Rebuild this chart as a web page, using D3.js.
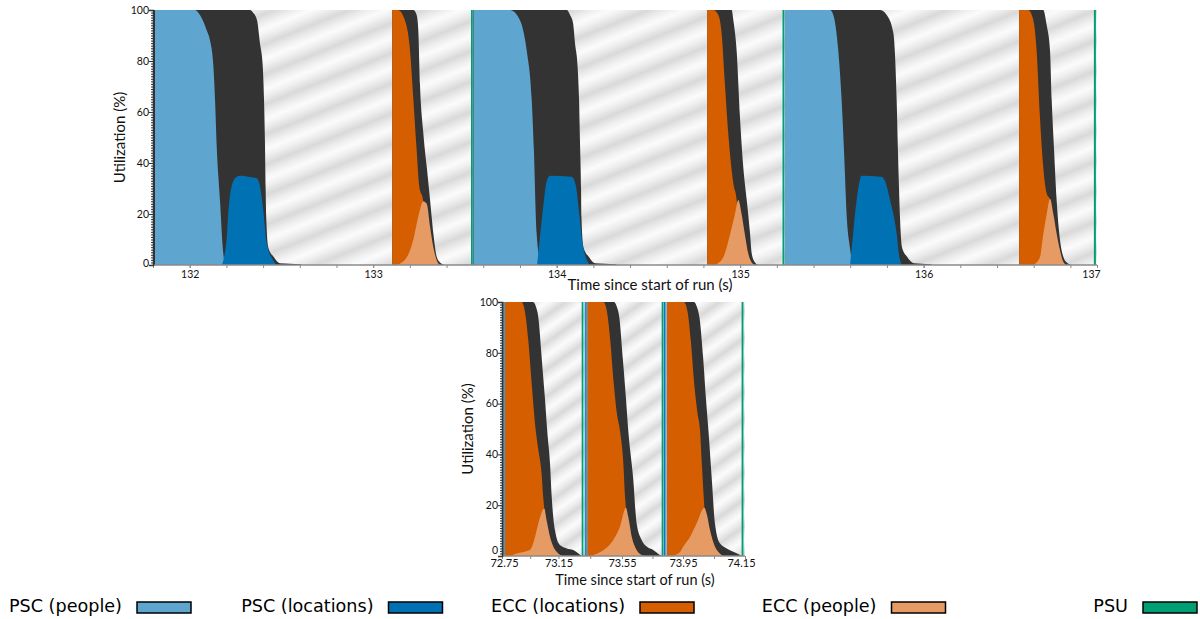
<!DOCTYPE html>
<html>
<head>
<meta charset="utf-8">
<script src="https://cdn.jsdelivr.net/npm/d3@7"></script>
<style>
  body { margin: 0; background: #fff; }
  svg { display: block; }
</style>
</head>
<body>
<svg id="chart" width="1200" height="619"></svg>
<script>
// ---------------------------------------------------------------------------
// Data: utilization (%) over time since start of run (s).
// Each series is a list of bursts; each burst is a list of [time, value].
// ---------------------------------------------------------------------------
const seriesNames = ["PSC (people)", "PSC (locations)", "ECC (locations)", "ECC (people)", "PSU"];

// Upper panel (132 s - 137 s)
const topExtent = [131.8, 136.945];
const topTicks = [132, 133, 134, 135, 136, 137];

const topTotal = [
  [[131.805,100],[132.329,100],[132.345,99],[132.367,96],[132.383,87],[132.398,78],[132.405,65],[132.410,49],[132.414,30],[132.417,19],[132.428,7],[132.456,3.3],[132.492,0.7],[132.601,0.3],[132.612,0]],
  [[133.104,100],[133.219,100],[133.237,98],[133.246,92],[133.255,71],[133.273,52],[133.292,38.5],[133.310,25.5],[133.328,12.4],[133.346,3.3],[133.364,1],[133.391,0]],
  [[133.544,100],[134.056,100],[134.073,98],[134.089,95],[134.100,87],[134.114,78],[134.122,65],[134.127,49],[134.133,30],[134.135,19],[134.146,7],[134.174,3.3],[134.209,0.7],[134.318,0.3],[134.329,0]],
  [[134.821,100],[134.954,100],[134.963,96],[134.981,84],[134.999,58],[135.017,38.5],[135.036,25.5],[135.054,12.4],[135.063,4.6],[135.081,1],[135.099,0]],
  [[135.244,100],[135.762,100],[135.799,98],[135.835,91],[135.853,65],[135.860,45],[135.866,30],[135.871,19],[135.882,7],[135.909,3.3],[135.947,0.7],[136.035,0.3],[136.046,0]],
  [[136.521,100],[136.652,100],[136.671,94],[136.689,84],[136.698,65],[136.711,45],[136.725,25.5],[136.743,10],[136.761,3.3],[136.780,1],[136.807,0]]
];

const topPscPeople = [
  [[131.811,100],[132.029,100],[132.056,98],[132.093,92],[132.111,88],[132.129,78],[132.138,65],[132.147,47],[132.165,25.5],[132.180,7],[132.192,0]],
  [[133.546,100],[133.746,100],[133.800,96],[133.837,84],[133.864,65],[133.876,45],[133.891,12.4],[133.909,2],[133.918,0]],
  [[135.244,100],[135.490,100],[135.508,98],[135.535,84],[135.553,65],[135.566,45],[135.581,19],[135.599,6.5],[135.608,2],[135.615,0]]
];

const topPscLocations = [
  [[132.176,0],[132.187,3],[132.202,11],[132.209,19],[132.229,31],[132.256,34.6],[132.274,35],[132.329,34.5],[132.365,34],[132.383,31],[132.401,21.6],[132.420,8.5],[132.454,2],[132.474,0]],
  [[133.893,0],[133.900,4.6],[133.927,23],[133.946,33],[133.964,35],[134.082,34.6],[134.105,31],[134.122,21],[134.141,8.5],[134.165,2],[134.182,0]],
  [[135.599,0],[135.608,6.5],[135.635,25.5],[135.662,35],[135.771,34.6],[135.789,33],[135.817,25.5],[135.853,12.4],[135.866,4],[135.882,0]]
];

const topEccLocations = [
  [[133.104,100],[133.135,100],[133.173,96],[133.201,84],[133.219,65],[133.237,45],[133.251,31],[133.273,25],[133.282,15],[133.293,0]],
  [[134.821,100],[134.854,100],[134.881,98],[134.899,91],[134.917,71],[134.935,52],[134.963,32],[134.981,25.5],[134.991,15],[135.002,0]],
  [[136.521,100],[136.570,100],[136.598,96],[136.616,84],[136.634,58],[136.652,38.5],[136.671,28],[136.689,25.5],[136.697,12],[136.705,0]]
];

const topEccPeople = [
  [[133.130,0],[133.183,3],[133.219,10],[133.246,19],[133.273,25],[133.292,24],[133.310,15],[133.328,7],[133.346,2],[133.364,0]],
  [[134.863,0],[134.908,3],[134.945,12],[134.972,20],[134.990,25.5],[135.008,20],[135.026,12],[135.044,4.6],[135.063,1],[135.081,0]],
  [[136.598,0],[136.634,3],[136.652,12],[136.671,20],[136.689,26],[136.707,20],[136.725,12.4],[136.743,5.9],[136.761,1.3],[136.780,0]]
];

const topPsu = [
  [[133.533,100],[133.543,100]],
  [[135.231,100],[135.241,100]],
  [[136.928,100],[136.939,100]]
];

// Lower panel (72.75 s - 74.15 s)
const bottomTicks = [72.75, 73.15, 73.55, 73.95, 74.15];

const bottomTotal = [
  [[72.771,100],[72.969,100],[72.991,98],[73.007,94],[73.031,78],[73.054,62],[73.072,48],[73.090,36.4],[73.102,23.3],[73.125,10.2],[73.159,4.3],[73.202,3],[73.243,2.4],[73.275,1],[73.296,0]],
  [[73.333,100],[73.500,100],[73.518,98],[73.533,94],[73.555,78],[73.576,62],[73.591,49.5],[73.624,30],[73.646,12.8],[73.679,6.3],[73.712,3.7],[73.755,2.4],[73.799,0.4],[73.810,0]],
  [[73.845,100],[73.985,100],[73.995,98],[74.003,94],[74.015,78],[74.024,62],[74.032,49.5],[74.043,30],[74.053,12.8],[74.069,5],[74.091,3],[74.112,1.7],[74.134,0.4],[74.139,0]]
];

const bottomPscPeople = [
  [[72.750,100],[72.771,100]],
  [[73.314,100],[73.333,100]],
  [[73.821,100],[73.843,100]]
];

const bottomPscLocations = [
  [[72.761,100],[72.766,100]],
  [[73.320,100],[73.325,100]],
  [[73.825,100],[73.831,100]]
];

const bottomEccLocations = [
  [[72.771,100],[72.889,100],[72.913,96],[72.936,85],[72.960,68],[72.984,52],[73.007,42],[73.031,32],[73.042,23],[73.049,18.7],[73.058,8],[73.065,0]],
  [[73.333,100],[73.433,100],[73.456,96],[73.476,85],[73.498,68],[73.518,56],[73.537,49.5],[73.559,36.4],[73.570,23.3],[73.576,19],[73.586,8],[73.593,0]],
  [[73.845,100],[73.953,100],[73.965,96],[73.975,85],[73.986,68],[73.997,56],[74.005,49.5],[74.011,36],[74.016,25],[74.019,19],[74.023,8],[74.026,0]]
];

const bottomEccPeople = [
  [[72.807,0],[72.854,1],[72.948,2.4],[72.984,7.6],[73.007,12.8],[73.049,18.7],[73.066,14],[73.090,7.6],[73.113,3.7],[73.149,1],[73.180,0]],
  [[73.348,0],[73.411,1.5],[73.495,6.3],[73.537,11.5],[73.576,19],[73.591,15.5],[73.614,7.6],[73.646,2.4],[73.679,0.4],[73.701,0]],
  [[73.878,0],[73.930,1.5],[73.951,3.7],[73.973,7.6],[73.994,12.8],[74.019,19],[74.026,16.8],[74.037,10.2],[74.053,3.7],[74.069,1],[74.080,0]]
];

const bottomPsu = [
  [[73.296,100],[73.307,100]],
  [[73.810,100],[73.820,100]],
  [[74.139,100],[74.145,100]]
];

const yTicks = [0, 20, 40, 60, 80, 100];

// ---------------------------------------------------------------------------
// Styling
// ---------------------------------------------------------------------------
const colors = {
  "PSC (people)": "#5ea5d0",
  "PSC (locations)": "#0071b2",
  "ECC (locations)": "#d55e00",
  "ECC (people)": "#e69b64",
  "PSU": "#009e73",
  "total": "#333333"
};
const labelFont = "Lato, 'Open Sans', sans-serif";
const legendFont = "'DejaVu Sans', sans-serif";

const svg = d3.select("#chart");
const defs = svg.append("defs");

// soft diagonal stripes behind each plot
function stripeGradient(id, angleDeg, period) {
  const a = angleDeg * Math.PI / 180;
  const g = defs.append("linearGradient")
    .attr("id", id)
    .attr("gradientUnits", "userSpaceOnUse")
    .attr("spreadMethod", "repeat")
    .attr("x1", 0).attr("y1", 0)
    .attr("x2", period * Math.sin(a)).attr("y2", period * Math.cos(a));
  [[0, "#d9d9d9"], [0.3, "#f0f0f0"], [0.5, "#fbfbfb"], [0.7, "#f0f0f0"], [1, "#d9d9d9"]]
    .forEach(([o, c]) => g.append("stop").attr("offset", o).attr("stop-color", c));
}
stripeGradient("stripesTop", 22, 28);
stripeGradient("stripesBottom", 35, 22);

function drawPanel(cfg) {
  const { x, y, left, right, top, bottom } = cfg;
  const g = svg.append("g");

  g.append("rect")
    .attr("x", left).attr("y", top)
    .attr("width", right - left).attr("height", bottom - top)
    .attr("fill", `url(#${cfg.stripes})`);

  const area = d3.area()
    .curve(d3.curveMonotoneX)
    .x(d => x(d[0]))
    .y0(y(0))
    .y1(d => y(d[1]));

  const layers = [
    ["total", cfg.series.total],
    ["PSC (people)", cfg.series.pscPeople],
    ["PSC (locations)", cfg.series.pscLocations],
    ["ECC (locations)", cfg.series.eccLocations],
    ["ECC (people)", cfg.series.eccPeople],
    ["PSU", cfg.series.psu]
  ];
  layers.forEach(([name, bursts]) => {
    g.append("g")
      .selectAll("path")
      .data(bursts)
      .join("path")
      .attr("d", area)
      .attr("fill", colors[name]);
  });

  // x axis: minor ticks, then labelled ticks
  const xAxisG = g.append("g").attr("transform", `translate(0,${bottom})`);
  xAxisG.append("line")
    .attr("x1", left).attr("x2", right)
    .attr("stroke", "#8a8a8a").attr("stroke-width", 1.5);
  xAxisG.append("g")
    .call(d3.axisBottom(x).tickValues(cfg.minorTicks).tickSize(3).tickFormat(""))
    .call(s => s.select(".domain").remove())
    .call(s => s.selectAll("line").attr("stroke", "#8a8a8a"));
  const labelAxis = d3.axisBottom(cfg.xLabel)
    .tickValues(cfg.ticks)
    .tickSize(3)
    .tickPadding(cfg.tickPad)
    .tickFormat(cfg.format);
  xAxisG.append("g")
    .call(labelAxis)
    .call(s => s.select(".domain").remove())
    .call(s => s.selectAll("line").attr("stroke", "#8a8a8a"))
    .call(s => s.selectAll("text")
      .attr("font-family", labelFont)
      .attr("font-size", cfg.tickFont)
      .attr("fill", "#111"))
    .call(s => s.selectAll(".tick:first-of-type text").attr("dx", cfg.firstDx))
    .call(s => s.selectAll(".tick:last-of-type text").attr("dx", cfg.lastDx));

  // y axis with a dense ruler of minor ticks
  const yAxisG = g.append("g").attr("transform", `translate(${left},0)`);
  yAxisG.append("g")
    .call(d3.axisLeft(y).tickValues(d3.range(0, 101, 1)).tickSize(2).tickFormat(""))
    .call(s => s.select(".domain").remove())
    .call(s => s.selectAll("line").attr("stroke", "#333"));
  yAxisG.append("g")
    .call(d3.axisLeft(y).tickValues(yTicks).tickSize(4).tickPadding(0))
    .call(s => s.select(".domain").attr("stroke", "#333").attr("stroke-width", 1.5))
    .call(s => s.selectAll("line").attr("stroke", "#333"))
    .call(s => s.selectAll("text")
      .attr("font-family", labelFont)
      .attr("font-size", 10.5)
      .attr("fill", "#111"))
    .call(s => s.selectAll(".tick:first-of-type text").attr("dy", cfg.zeroDy));

  // axis titles
  g.append("text")
    .attr("x", cfg.xTitle[0]).attr("y", cfg.xTitle[1])
    .attr("text-anchor", "middle")
    .attr("font-family", labelFont).attr("font-size", cfg.titleFont)
    .attr("fill", "#111")
    .text("Time since start of run (s)");
  g.append("text")
    .attr("transform", `translate(${cfg.yTitle[0]},${(top + bottom) / 2}) rotate(-90)`)
    .attr("text-anchor", "middle")
    .attr("font-family", labelFont).attr("font-size", 15)
    .attr("fill", "#111")
    .text("Utilization (%)");
}

// upper panel
const xTop = d3.scaleLinear().domain(topExtent).range([153, 1097]);
const yTop = d3.scaleLinear().domain([0, 100]).range([265, 10]);
drawPanel({
  x: xTop, y: yTop, left: 153, right: 1097, top: 10, bottom: 265,
  xLabel: xTop.copy().clamp(true),
  ticks: topTicks,
  minorTicks: d3.range(659, 685).map(k => k / 5),
  format: d3.format("d"),
  tickFont: 10.5, tickPad: 3, firstDx: 0, lastDx: -6, zeroDy: "0.1em",
  stripes: "stripesTop",
  xTitle: [650, 290], titleFont: 15, yTitle: [125],
  series: {
    total: topTotal, pscPeople: topPscPeople, pscLocations: topPscLocations,
    eccLocations: topEccLocations, eccPeople: topEccPeople, psu: topPsu
  }
});

// lower panel: the axis is stretched between its labelled instants
const bottomLeft = 502, bottomRight = 745;
const bottomTickFrac = [0, 0.2325, 0.4938, 0.7449, 1];
const xBot = d3.scaleLinear()
  .domain(bottomTicks)
  .range(bottomTickFrac.map(f => bottomLeft + f * (bottomRight - bottomLeft)));
const yBot = d3.scaleLinear().domain([0, 100]).range([556, 302]);
drawPanel({
  x: xBot, y: yBot, left: bottomLeft, right: bottomRight, top: 302, bottom: 556,
  xLabel: xBot,
  ticks: bottomTicks,
  minorTicks: d3.pairs(bottomTicks).map(([a, b]) => (a + b) / 2),
  format: d3.format(".2f"),
  tickFont: 11, tickPad: 0.5, firstDx: 2, lastDx: -4, zeroDy: "-0.2em",
  stripes: "stripesBottom",
  xTitle: [635, 585], titleFont: 14.5, yTitle: [473],
  series: {
    total: bottomTotal, pscPeople: bottomPscPeople, pscLocations: bottomPscLocations,
    eccLocations: bottomEccLocations, eccPeople: bottomEccPeople, psu: bottomPsu
  }
});

// legend: right-aligned entries in equal columns
const legend = svg.append("g").attr("class", "legend");
const item = legend.selectAll("g")
  .data(seriesNames)
  .join("g")
  .attr("transform", (d, i) => `translate(${191 + i * 251.5},0)`);
item.append("rect")
  .attr("x", -54).attr("y", 602)
  .attr("width", 54).attr("height", 11)
  .attr("fill", d => colors[d])
  .attr("stroke", "#000").attr("stroke-width", 1.5);
item.append("text")
  .attr("x", -69).attr("y", 612)
  .attr("text-anchor", "end")
  .attr("font-family", legendFont).attr("font-size", 17.6)
  .attr("fill", "#000")
  .text(d => d);
</script>
</body>
</html>
